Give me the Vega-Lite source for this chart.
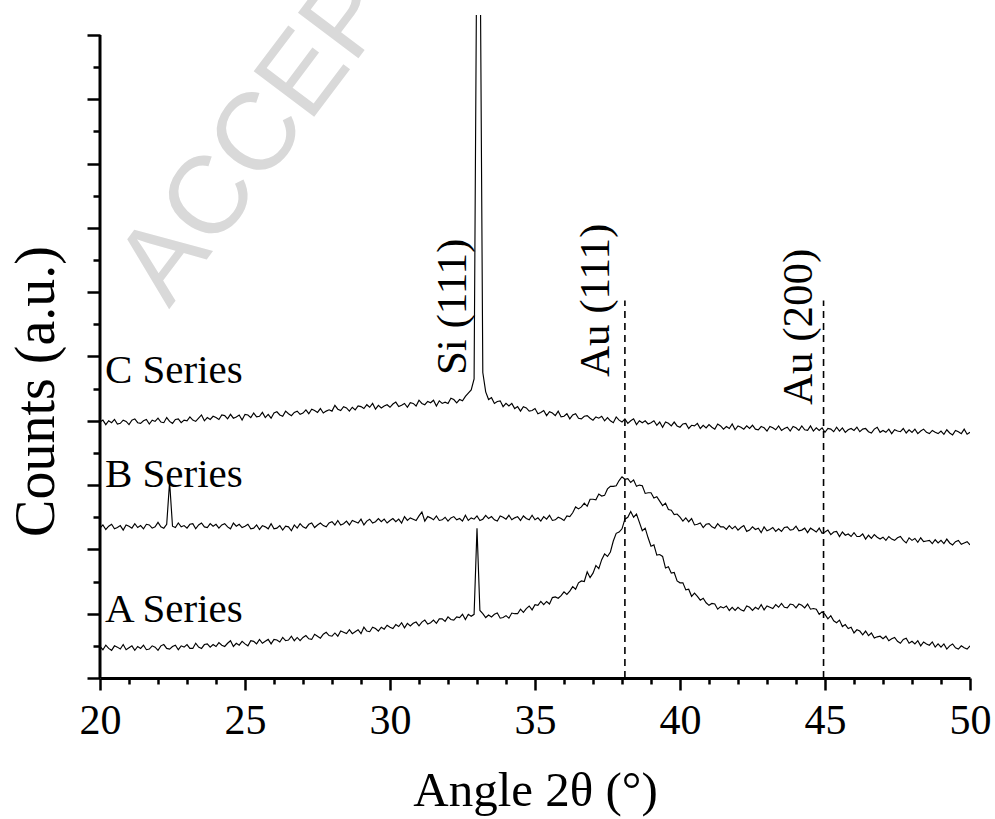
{
"$schema": "https://vega.github.io/schema/vega-lite/v6.json",
"width": 870, "height": 663,
"autosize": {"type": "none"},
"padding": {"left": 100, "top": 15, "right": 25, "bottom": 141},
"background": "white",
"config": {"view": {"stroke": null}, "font": "Liberation Serif"},
"datasets": {
"xrd": [
{"x":20.0,"a":0.49,"b":2.33,"c":3.98},{"x":20.1,"a":0.44,"b":2.38,"c":4.01},{"x":20.2,"a":0.51,"b":2.31,"c":3.94},{"x":20.3,"a":0.46,"b":2.36,"c":4.00},{"x":20.4,"a":0.43,"b":2.39,"c":3.97},{"x":20.5,"a":0.50,"b":2.32,"c":4.02},{"x":20.6,"a":0.48,"b":2.34,"c":3.95},{"x":20.7,"a":0.45,"b":2.37,"c":3.96},{"x":20.8,"a":0.52,"b":2.30,"c":4.01},{"x":20.9,"a":0.44,"b":2.38,"c":3.99},
{"x":21.0,"a":0.47,"b":2.36,"c":3.94},{"x":21.1,"a":0.50,"b":2.33,"c":4.01},{"x":21.2,"a":0.43,"b":2.40,"c":4.03},{"x":21.3,"a":0.49,"b":2.34,"c":3.97},{"x":21.4,"a":0.46,"b":2.37,"c":3.96},{"x":21.5,"a":0.51,"b":2.32,"c":4.00},{"x":21.6,"a":0.44,"b":2.39,"c":4.02},{"x":21.7,"a":0.45,"b":2.38,"c":3.95},{"x":21.8,"a":0.50,"b":2.33,"c":4.01},{"x":21.9,"a":0.48,"b":2.35,"c":3.99},
{"x":22.0,"a":0.43,"b":2.42,"c":4.04},{"x":22.1,"a":0.50,"b":2.35,"c":3.98},{"x":22.2,"a":0.52,"b":2.33,"c":3.97},{"x":22.3,"a":0.46,"b":2.39,"c":4.05},{"x":22.4,"a":0.45,"b":3.05,"c":3.99},{"x":22.5,"a":0.49,"b":2.36,"c":3.96},{"x":22.6,"a":0.51,"b":2.34,"c":4.02},{"x":22.7,"a":0.44,"b":2.41,"c":4.03},{"x":22.8,"a":0.50,"b":2.35,"c":3.97},{"x":22.9,"a":0.48,"b":2.37,"c":4.01},
{"x":23.0,"a":0.52,"b":2.33,"c":4.00},{"x":23.1,"a":0.46,"b":2.39,"c":4.06},{"x":23.2,"a":0.46,"b":2.40,"c":4.01},{"x":23.3,"a":0.54,"b":2.32,"c":3.99},{"x":23.4,"a":0.48,"b":2.38,"c":4.04},{"x":23.5,"a":0.46,"b":2.41,"c":4.09},{"x":23.6,"a":0.52,"b":2.35,"c":4.00},{"x":23.7,"a":0.53,"b":2.34,"c":4.05},{"x":23.8,"a":0.48,"b":2.40,"c":4.02},{"x":23.9,"a":0.52,"b":2.36,"c":4.07},
{"x":24.0,"a":0.49,"b":2.39,"c":4.05},{"x":24.1,"a":0.55,"b":2.33,"c":4.02},{"x":24.2,"a":0.51,"b":2.38,"c":4.09},{"x":24.3,"a":0.49,"b":2.40,"c":4.08},{"x":24.4,"a":0.54,"b":2.35,"c":4.03},{"x":24.5,"a":0.58,"b":2.32,"c":4.10},{"x":24.6,"a":0.49,"b":2.41,"c":4.04},{"x":24.7,"a":0.54,"b":2.36,"c":4.06},{"x":24.8,"a":0.51,"b":2.39,"c":4.09},{"x":24.9,"a":0.57,"b":2.34,"c":4.01},
{"x":25.0,"a":0.53,"b":2.36,"c":4.10},{"x":25.1,"a":0.50,"b":2.39,"c":4.09},{"x":25.2,"a":0.58,"b":2.32,"c":4.05},{"x":25.3,"a":0.57,"b":2.33,"c":4.12},{"x":25.4,"a":0.53,"b":2.38,"c":4.06},{"x":25.5,"a":0.60,"b":2.31,"c":4.07},{"x":25.6,"a":0.54,"b":2.37,"c":4.13},{"x":25.7,"a":0.57,"b":2.35,"c":4.05},{"x":25.8,"a":0.60,"b":2.32,"c":4.10},{"x":25.9,"a":0.53,"b":2.40,"c":4.04},
{"x":26.0,"a":0.60,"b":2.32,"c":4.12},{"x":26.1,"a":0.59,"b":2.33,"c":4.14},{"x":26.2,"a":0.56,"b":2.37,"c":4.09},{"x":26.3,"a":0.63,"b":2.30,"c":4.07},{"x":26.4,"a":0.58,"b":2.36,"c":4.15},{"x":26.5,"a":0.59,"b":2.35,"c":4.11},{"x":26.6,"a":0.65,"b":2.29,"c":4.08},{"x":26.7,"a":0.58,"b":2.38,"c":4.13},{"x":26.8,"a":0.63,"b":2.33,"c":4.15},{"x":26.9,"a":0.58,"b":2.40,"c":4.10},
{"x":27.0,"a":0.63,"b":2.35,"c":4.12},{"x":27.1,"a":0.66,"b":2.33,"c":4.17},{"x":27.2,"a":0.61,"b":2.39,"c":4.11},{"x":27.3,"a":0.60,"b":2.41,"c":4.18},{"x":27.4,"a":0.68,"b":2.34,"c":4.16},{"x":27.5,"a":0.65,"b":2.38,"c":4.13},{"x":27.6,"a":0.62,"b":2.41,"c":4.19},{"x":27.7,"a":0.68,"b":2.37,"c":4.12},{"x":27.8,"a":0.71,"b":2.35,"c":4.15},{"x":27.9,"a":0.66,"b":2.41,"c":4.17},
{"x":28.0,"a":0.65,"b":2.43,"c":4.15},{"x":28.1,"a":0.70,"b":2.38,"c":4.24},{"x":28.2,"a":0.65,"b":2.45,"c":4.18},{"x":28.3,"a":0.73,"b":2.38,"c":4.16},{"x":28.4,"a":0.71,"b":2.40,"c":4.22},{"x":28.5,"a":0.69,"b":2.44,"c":4.20},{"x":28.6,"a":0.75,"b":2.38,"c":4.15},{"x":28.7,"a":0.69,"b":2.45,"c":4.21},{"x":28.8,"a":0.72,"b":2.43,"c":4.17},{"x":28.9,"a":0.75,"b":2.41,"c":4.23},
{"x":29.0,"a":0.69,"b":2.47,"c":4.22},{"x":29.1,"a":0.79,"b":2.38,"c":4.19},{"x":29.2,"a":0.73,"b":2.44,"c":4.25},{"x":29.3,"a":0.72,"b":2.47,"c":4.21},{"x":29.4,"a":0.79,"b":2.41,"c":4.27},{"x":29.5,"a":0.77,"b":2.43,"c":4.18},{"x":29.6,"a":0.73,"b":2.48,"c":4.24},{"x":29.7,"a":0.79,"b":2.43,"c":4.20},{"x":29.8,"a":0.76,"b":2.47,"c":4.23},{"x":29.9,"a":0.82,"b":2.41,"c":4.25},
{"x":30.0,"a":0.79,"b":2.45,"c":4.21},{"x":30.1,"a":0.77,"b":2.48,"c":4.26},{"x":30.2,"a":0.83,"b":2.43,"c":4.29},{"x":30.3,"a":0.80,"b":2.47,"c":4.22},{"x":30.4,"a":0.86,"b":2.41,"c":4.24},{"x":30.5,"a":0.78,"b":2.51,"c":4.27},{"x":30.6,"a":0.85,"b":2.45,"c":4.21},{"x":30.7,"a":0.81,"b":2.49,"c":4.28},{"x":30.8,"a":0.85,"b":2.47,"c":4.27},{"x":30.9,"a":0.87,"b":2.45,"c":4.23},
{"x":31.0,"a":0.81,"b":2.52,"c":4.32},{"x":31.1,"a":0.87,"b":2.58,"c":4.27},{"x":31.2,"a":0.90,"b":2.44,"c":4.25},{"x":31.3,"a":0.84,"b":2.51,"c":4.30},{"x":31.4,"a":0.86,"b":2.49,"c":4.28},{"x":31.5,"a":0.90,"b":2.46,"c":4.32},{"x":31.6,"a":0.85,"b":2.52,"c":4.23},{"x":31.7,"a":0.92,"b":2.45,"c":4.31},{"x":31.8,"a":0.92,"b":2.46,"c":4.27},{"x":31.9,"a":0.88,"b":2.50,"c":4.29},
{"x":32.0,"a":0.95,"b":2.44,"c":4.27},{"x":32.1,"a":0.91,"b":2.49,"c":4.35},{"x":32.2,"a":0.90,"b":2.51,"c":4.33},{"x":32.3,"a":0.95,"b":2.46,"c":4.28},{"x":32.4,"a":0.94,"b":2.48,"c":4.33},{"x":32.5,"a":0.99,"b":2.44,"c":4.31},{"x":32.6,"a":0.91,"b":2.53,"c":4.38},{"x":32.7,"a":0.99,"b":2.45,"c":4.43},{"x":32.8,"a":0.96,"b":2.49,"c":4.48},{"x":32.9,"a":0.99,"b":2.47,"c":4.65},
{"x":33.0,"a":2.33,"b":2.52,"c":12},{"x":33.1,"a":1.05,"b":2.45,"c":12},{"x":33.2,"a":1.00,"b":2.47,"c":4.75},{"x":33.3,"a":0.94,"b":2.53,"c":4.45},{"x":33.4,"a":0.98,"b":2.48,"c":4.33},{"x":33.5,"a":0.95,"b":2.51,"c":4.36},{"x":33.6,"a":0.99,"b":2.46,"c":4.27},{"x":33.7,"a":1.01,"b":2.44,"c":4.30},{"x":33.8,"a":0.93,"b":2.52,"c":4.31},{"x":33.9,"a":0.94,"b":2.50,"c":4.22},
{"x":34.0,"a":0.97,"b":2.47,"c":4.27},{"x":34.1,"a":0.93,"b":2.53,"c":4.23},{"x":34.2,"a":1.01,"b":2.46,"c":4.27},{"x":34.3,"a":1.00,"b":2.49,"c":4.19},{"x":34.4,"a":1.00,"b":2.51,"c":4.22},{"x":34.5,"a":1.07,"b":2.45,"c":4.15},{"x":34.6,"a":1.02,"b":2.52,"c":4.22},{"x":34.7,"a":1.08,"b":2.48,"c":4.20},{"x":34.8,"a":1.12,"b":2.46,"c":4.15},{"x":34.9,"a":1.06,"b":2.53,"c":4.16},
{"x":35.0,"a":1.14,"b":2.46,"c":4.19},{"x":35.1,"a":1.13,"b":2.49,"c":4.11},{"x":35.2,"a":1.19,"b":2.44,"c":4.13},{"x":35.3,"a":1.14,"b":2.51,"c":4.16},{"x":35.4,"a":1.19,"b":2.47,"c":4.08},{"x":35.5,"a":1.15,"b":2.53,"c":4.14},{"x":35.6,"a":1.25,"b":2.45,"c":4.12},{"x":35.7,"a":1.26,"b":2.46,"c":4.08},{"x":35.8,"a":1.24,"b":2.50,"c":4.15},{"x":35.9,"a":1.28,"b":2.48,"c":4.06},
{"x":36.0,"a":1.34,"b":2.45,"c":4.07},{"x":36.1,"a":1.30,"b":2.52,"c":4.11},{"x":36.2,"a":1.35,"b":2.51,"c":4.03},{"x":36.3,"a":1.42,"b":2.57,"c":4.09},{"x":36.4,"a":1.38,"b":2.66,"c":4.11},{"x":36.5,"a":1.48,"b":2.63,"c":4.04},{"x":36.6,"a":1.51,"b":2.66,"c":4.03},{"x":36.7,"a":1.50,"b":2.72,"c":4.07},{"x":36.8,"a":1.65,"b":2.67,"c":4.08},{"x":36.9,"a":1.56,"b":2.78,"c":4.04},
{"x":37.0,"a":1.63,"b":2.78,"c":4.01},{"x":37.1,"a":1.75,"b":2.77,"c":4.06},{"x":37.2,"a":1.70,"b":2.86,"c":4.04},{"x":37.3,"a":1.84,"b":2.83,"c":4.07},{"x":37.4,"a":1.93,"b":2.84,"c":4.00},{"x":37.5,"a":1.89,"b":2.94,"c":4.05},{"x":37.6,"a":1.96,"b":2.98,"c":4.00},{"x":37.7,"a":2.13,"b":2.98,"c":3.97},{"x":37.8,"a":2.25,"b":2.99,"c":4.06},{"x":37.9,"a":2.27,"b":3.07,"c":4.01},
{"x":38.0,"a":2.32,"b":3.13,"c":3.98},{"x":38.1,"a":2.47,"b":3.09,"c":4.03},{"x":38.2,"a":2.50,"b":3.10,"c":3.96},{"x":38.3,"a":2.59,"b":3.04,"c":4.00},{"x":38.4,"a":2.50,"b":3.08,"c":4.03},{"x":38.5,"a":2.55,"b":2.98,"c":3.94},{"x":38.6,"a":2.42,"b":3.00,"c":4.00},{"x":38.7,"a":2.29,"b":2.99,"c":3.97},{"x":38.8,"a":2.33,"b":2.87,"c":4.00},{"x":38.9,"a":2.18,"b":2.88,"c":3.95},
{"x":39.0,"a":2.05,"b":2.88,"c":3.97},{"x":39.1,"a":2.07,"b":2.80,"c":4.00},{"x":39.2,"a":1.91,"b":2.82,"c":3.93},{"x":39.3,"a":1.92,"b":2.75,"c":3.98},{"x":39.4,"a":1.89,"b":2.68,"c":3.90},{"x":39.5,"a":1.71,"b":2.72,"c":3.98},{"x":39.6,"a":1.73,"b":2.62,"c":3.96},{"x":39.7,"a":1.63,"b":2.61,"c":3.92},{"x":39.8,"a":1.64,"b":2.54,"c":3.98},{"x":39.9,"a":1.51,"b":2.55,"c":3.92},
{"x":40.0,"a":1.48,"b":2.50,"c":3.90},{"x":40.1,"a":1.48,"b":2.44,"c":3.95},{"x":40.2,"a":1.37,"b":2.49,"c":3.96},{"x":40.3,"a":1.38,"b":2.43,"c":3.88},{"x":40.4,"a":1.27,"b":2.48,"c":3.93},{"x":40.5,"a":1.32,"b":2.38,"c":3.92},{"x":40.6,"a":1.27,"b":2.39,"c":3.96},{"x":40.7,"a":1.21,"b":2.41,"c":3.88},{"x":40.8,"a":1.24,"b":2.34,"c":3.93},{"x":40.9,"a":1.17,"b":2.39,"c":3.89},
{"x":41.0,"a":1.13,"b":2.40,"c":3.94},{"x":41.1,"a":1.16,"b":2.35,"c":3.90},{"x":41.2,"a":1.15,"b":2.33,"c":3.87},{"x":41.3,"a":1.07,"b":2.40,"c":3.95},{"x":41.4,"a":1.11,"b":2.35,"c":3.92},{"x":41.5,"a":1.09,"b":2.35,"c":3.87},{"x":41.6,"a":1.12,"b":2.31,"c":3.91},{"x":41.7,"a":1.05,"b":2.37,"c":3.88},{"x":41.8,"a":1.10,"b":2.32,"c":3.95},{"x":41.9,"a":1.05,"b":2.36,"c":3.86},
{"x":42.0,"a":1.10,"b":2.30,"c":3.92},{"x":42.1,"a":1.06,"b":2.34,"c":3.90},{"x":42.2,"a":1.04,"b":2.37,"c":3.87},{"x":42.3,"a":1.12,"b":2.28,"c":3.92},{"x":42.4,"a":1.10,"b":2.30,"c":3.88},{"x":42.5,"a":1.05,"b":2.35,"c":3.93},{"x":42.6,"a":1.10,"b":2.31,"c":3.87},{"x":42.7,"a":1.07,"b":2.33,"c":3.86},{"x":42.8,"a":1.14,"b":2.26,"c":3.91},{"x":42.9,"a":1.06,"b":2.35,"c":3.89},
{"x":43.0,"a":1.12,"b":2.29,"c":3.84},{"x":43.1,"a":1.10,"b":2.31,"c":3.91},{"x":43.2,"a":1.08,"b":2.34,"c":3.89},{"x":43.3,"a":1.14,"b":2.28,"c":3.86},{"x":43.4,"a":1.10,"b":2.32,"c":3.92},{"x":43.5,"a":1.16,"b":2.28,"c":3.85},{"x":43.6,"a":1.10,"b":2.34,"c":3.88},{"x":43.7,"a":1.09,"b":2.35,"c":3.90},{"x":43.8,"a":1.15,"b":2.30,"c":3.84},{"x":43.9,"a":1.14,"b":2.31,"c":3.91},
{"x":44.0,"a":1.09,"b":2.36,"c":3.89},{"x":44.1,"a":1.15,"b":2.29,"c":3.85},{"x":44.2,"a":1.13,"b":2.30,"c":3.92},{"x":44.3,"a":1.09,"b":2.33,"c":3.86},{"x":44.4,"a":1.15,"b":2.26,"c":3.85},{"x":44.5,"a":1.07,"b":2.33,"c":3.92},{"x":44.6,"a":1.08,"b":2.30,"c":3.84},{"x":44.7,"a":1.07,"b":2.27,"c":3.89},{"x":44.8,"a":0.99,"b":2.33,"c":3.85},{"x":44.9,"a":1.03,"b":2.25,"c":3.89},
{"x":45.0,"a":0.99,"b":2.27,"c":3.82},{"x":45.1,"a":0.92,"b":2.30,"c":3.88},{"x":45.2,"a":0.97,"b":2.23,"c":3.87},{"x":45.3,"a":0.89,"b":2.27,"c":3.83},{"x":45.4,"a":0.86,"b":2.28,"c":3.90},{"x":45.5,"a":0.90,"b":2.20,"c":3.84},{"x":45.6,"a":0.80,"b":2.27,"c":3.89},{"x":45.7,"a":0.83,"b":2.22,"c":3.82},{"x":45.8,"a":0.77,"b":2.24,"c":3.86},{"x":45.9,"a":0.79,"b":2.20,"c":3.88},
{"x":46.0,"a":0.70,"b":2.26,"c":3.85},{"x":46.1,"a":0.75,"b":2.20,"c":3.90},{"x":46.2,"a":0.73,"b":2.20,"c":3.83},{"x":46.3,"a":0.67,"b":2.24,"c":3.87},{"x":46.4,"a":0.73,"b":2.16,"c":3.88},{"x":46.5,"a":0.66,"b":2.22,"c":3.83},{"x":46.6,"a":0.70,"b":2.17,"c":3.81},{"x":46.7,"a":0.62,"b":2.23,"c":3.87},{"x":46.8,"a":0.64,"b":2.19,"c":3.90},{"x":46.9,"a":0.65,"b":2.16,"c":3.82},
{"x":47.0,"a":0.61,"b":2.19,"c":3.85},{"x":47.1,"a":0.65,"b":2.14,"c":3.82},{"x":47.2,"a":0.58,"b":2.20,"c":3.87},{"x":47.3,"a":0.61,"b":2.16,"c":3.80},{"x":47.4,"a":0.63,"b":2.14,"c":3.86},{"x":47.5,"a":0.57,"b":2.18,"c":3.84},{"x":47.6,"a":0.54,"b":2.20,"c":3.83},{"x":47.7,"a":0.60,"b":2.14,"c":3.88},{"x":47.8,"a":0.62,"b":2.10,"c":3.81},{"x":47.9,"a":0.54,"b":2.18,"c":3.86},
{"x":48.0,"a":0.57,"b":2.14,"c":3.82},{"x":48.1,"a":0.53,"b":2.17,"c":3.87},{"x":48.2,"a":0.58,"b":2.11,"c":3.80},{"x":48.3,"a":0.50,"b":2.18,"c":3.84},{"x":48.4,"a":0.56,"b":2.12,"c":3.87},{"x":48.5,"a":0.53,"b":2.13,"c":3.82},{"x":48.6,"a":0.51,"b":2.14,"c":3.80},{"x":48.7,"a":0.56,"b":2.09,"c":3.85},{"x":48.8,"a":0.48,"b":2.15,"c":3.82},{"x":48.9,"a":0.53,"b":2.10,"c":3.80},
{"x":49.0,"a":0.48,"b":2.14,"c":3.84},{"x":49.1,"a":0.53,"b":2.09,"c":3.79},{"x":49.2,"a":0.45,"b":2.16,"c":3.86},{"x":49.3,"a":0.50,"b":2.10,"c":3.81},{"x":49.4,"a":0.53,"b":2.07,"c":3.78},{"x":49.5,"a":0.47,"b":2.12,"c":3.85},{"x":49.6,"a":0.45,"b":2.14,"c":3.83},{"x":49.7,"a":0.50,"b":2.08,"c":3.80},{"x":49.8,"a":0.47,"b":2.10,"c":3.87},{"x":49.9,"a":0.45,"b":2.12,"c":3.79},
{"x":50.0,"a":0.50,"b":2.07,"c":3.82}
],
"series": [
{"x":20.17,"y":4.587,"t":"C Series"},
{"x":20.17,"y":2.97,"t":"B Series"},
{"x":20.17,"y":0.871,"t":"A Series"}
],
"peaks": [
{"x":32.62,"y":4.71,"t":"Si (111)"},
{"x":37.55,"y":4.68,"t":"Au (111)"},
{"x":44.55,"y":4.245,"t":"Au (200)"}
],
"refs": [
{"x":38.1,"y":0,"y2":5.87},
{"x":44.95,"y":0,"y2":5.87}
],
"yaxis": [{"x":20,"y":0,"y2":10}],
"wm": [{"x":22.38,"y":5.73,"t":"ACCEPTED"}]
},
"encoding": {
"x": {"field": "x", "type": "quantitative",
  "scale": {"domain": [20, 50], "nice": false, "zero": false},
  "axis": {
    "values": [20,21,22,23,24,25,26,27,28,29,30,31,32,33,34,35,36,37,38,39,40,41,42,43,44,45,46,47,48,49,50],
    "labelExpr": "datum.value % 5 === 0 ? datum.label : ''",
    "tickSize": {"condition": {"test": "datum.value % 5 === 0", "value": 12}, "value": 6},
    "tickWidth": 2.5, "tickColor": "black",
    "domainWidth": 3, "domainColor": "black",
    "grid": false,
    "labelFont": "Liberation Serif", "labelFontSize": 42, "labelColor": "black",
    "labelBaseline": "alphabetic", "labelPadding": 43, "labelOverlap": false, "labelFlush": false,
    "title": "Angle 2θ (°)", "titleFont": "Liberation Serif", "titleFontSize": 49,
    "titleFontWeight": "normal", "titleColor": "black",
    "titleBaseline": "alphabetic", "titleY": 127
  }},
"y": {"field": "y", "type": "quantitative",
  "scale": {"domain": [0, 10.31], "nice": false, "zero": false},
  "axis": {
    "values": [0,0.5,1,1.5,2,2.5,3,3.5,4,4.5,5,5.5,6,6.5,7,7.5,8,8.5,9,9.5,10],
    "labels": false, "domain": false, "grid": false,
    "tickSize": {"condition": {"test": "datum.value % 1 === 0", "value": 13}, "value": 7},
    "tickWidth": 2.5, "tickColor": "black",
    "title": "Counts (a.u.)", "titleFont": "Liberation Serif", "titleFontSize": 56,
    "titleFontWeight": "normal", "titleColor": "black",
    "titleAngle": -90, "titleAlign": "center", "titleBaseline": "alphabetic",
    "titleX": -47, "titleY": 376
  }}
},
"layer": [
{"data": {"name": "wm"},
 "mark": {"type": "text", "font": "Liberation Sans", "fontSize": 110, "color": "#d9d9d9", "angle": -53, "align": "left", "baseline": "alphabetic"},
 "encoding": {"text": {"field": "t"}}},
{"data": {"name": "xrd"},
 "transform": [{"fold": ["a", "b", "c"], "as": ["series", "y"]}],
 "mark": {"type": "line", "color": "black", "strokeWidth": 1.15, "clip": true},
 "encoding": {"detail": {"field": "series"}}},
{"data": {"name": "refs"},
 "mark": {"type": "rule", "color": "black", "strokeWidth": 1.6, "strokeDash": [7, 5]},
 "encoding": {"y2": {"field": "y2"}}},
{"data": {"name": "yaxis"},
 "mark": {"type": "rule", "color": "black", "strokeWidth": 3},
 "encoding": {"y2": {"field": "y2"}}},
{"data": {"name": "series"},
 "mark": {"type": "text", "font": "Liberation Serif", "fontSize": 41, "color": "black", "align": "left", "baseline": "alphabetic"},
 "encoding": {"text": {"field": "t"}}},
{"data": {"name": "peaks"},
 "mark": {"type": "text", "font": "Liberation Serif", "fontSize": 43, "color": "black", "align": "left", "baseline": "alphabetic", "angle": -90},
 "encoding": {"text": {"field": "t"}}}
]
}
